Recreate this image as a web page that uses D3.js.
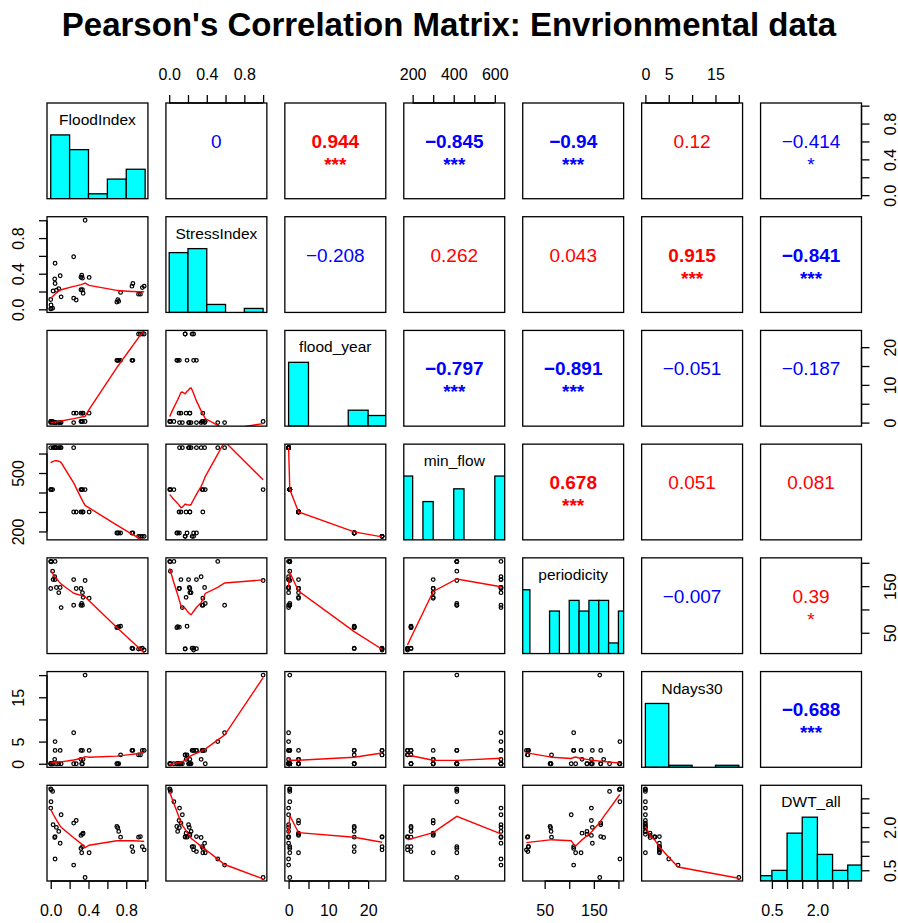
<!DOCTYPE html>
<html>
<head>
<meta charset="utf-8">
<script src="https://cdn.jsdelivr.net/npm/d3@7"></script>
<style>
  body { margin: 0; background: #fff; }
  svg { display: block; }
</style>
</head>
<body>
<div id="chart"></div>
<script>
// ---- data (one entry per observation, 34 rows) ----
const varNames = ["FloodIndex", "StressIndex", "flood_year", "min_flow", "periodicity", "Ndays30", "DWT_all"];

const floodIndex = [0.000, 0.020, 0.005, 0.003, 0.000, 0.025, 0.046, 0.042, 0.046, 0.060, 0.085, 0.100, 0.110,
  0.243, 0.243, 0.270, 0.320, 0.336, 0.343, 0.320, 0.328, 0.364, 0.336, 0.407,
  0.700, 0.710, 0.720, 0.740, 0.860, 0.870, 0.930, 0.970, 0.990, 0.950];
const stressIndex = [0.005, 0.013, 0.010, 0.050, 0.110, 0.206, 0.290, 0.340, 0.517, 0.214, 0.233, 0.377, 0.140,
  0.590, 0.125, 0.105, 0.220, 0.220, 0.180, 0.360, 0.384, 1.000, 0.350, 0.358,
  0.081, 0.108, 0.090, 0.190, 0.260, 0.290, 0.170, 0.244, 0.260, 0.170];
const floodYear = [0.3, 0.3, 0.3, 0.3, 0, 0, 0, 0, 0, 0, 0, 0, 0,
  0, 2.5, 2.5, 2.5, 2.5, 2.5, 0.3, 0.3, 0.3, 0.3, 2.5,
  16.5, 16.5, 16.5, 16.5, 16.5, 16.5, 23.5, 23.5, 23.5, 23.5];
const minFlow = [415, 415, 415, 415, 630, 630, 630, 630, 630, 630, 630, 630, 630,
  630, 300, 300, 300, 300, 300, 415, 415, 415, 415, 300,
  192, 192, 192, 192, 192, 192, 175, 175, 175, 175];
const periodicity = [203, 182, 202, 203, 145, 164, 164, 170, 203, 147, 136, 147, 104,
  109, 164, 145, 145, 136, 126, 109, 113, 162, 109, 124,
  61, 62, 63, 64, 17, 16, 15, 17, 13, 16];
const ndays30 = [0, 0, 0, 0, 0, 0, 3, 1, 5, 0, 0, 3, 0,
  7, 0, 0, 1, 0, 1, 3, 0, 20, 3, 3,
  0, 0, 0, 2, 3, 3, 2, 3, 3, 2];
const dwtAll = [3.33, 3.24, 3.30, 2.88, 2.66, 2.08, 1.67, 1.64, 0.89, 1.99, 1.85, 1.44, 2.43,
  0.68, 2.14, 2.23, 1.71, 1.75, 1.79, 1.26, 1.11, 0.25, 1.32, 1.11,
  2.02, 1.98, 1.85, 1.65, 1.32, 1.15, 1.65, 1.32, 1.21, 1.67];

// correlations printed in the upper panels (row by row)
const corrValues = [0, 0.944, -0.845, -0.94, 0.12, -0.414,
  -0.208, 0.262, 0.043, 0.915, -0.841,
  -0.797, -0.891, -0.051, -0.187,
  0.678, 0.051, 0.081,
  -0.007, 0.39,
  -0.688];
const corrStars = ["", "***", "***", "***", "", "*",
  "", "", "", "***", "***",
  "***", "***", "", "",
  "***", "", "",
  "", "*",
  "***"];
const tickFormats = [".1f", ".1f", "d", "d", "d", "d", ".1f"];

const title = "Pearson's Correlation Matrix: Envrionmental data";

// ---- layout ----
const W = 898, H = 923;
const plotLeft = 47, plotTop = 103, plotRight = 861.5, plotBottom = 881, gap = 18;
const nv = varNames.length;
const pw = (plotRight - plotLeft - gap * (nv - 1)) / nv;
const ph = (plotBottom - plotTop - gap * (nv - 1)) / nv;
const font = "'Liberation Sans', Arial, Helvetica, sans-serif";
const tickLen = 8, labOff = 29;

const columns = [floodIndex, stressIndex, floodYear, minFlow, periodicity, ndays30, dwtAll];

// R-like helpers
function rPretty(lo, hi, n) {
  const cell = (hi - lo) / n;
  const U = Math.pow(10, Math.floor(Math.log10(cell)));
  const h = 1.5, h5 = 0.5 + 1.5 * h;
  let unit = U;
  if (2 * U - cell < h * (cell - unit)) {
    unit = 2 * U;
    if (5 * U - cell < h5 * (cell - unit)) {
      unit = 5 * U;
      if (10 * U - cell < h * (cell - unit)) unit = 10 * U;
    }
  }
  const ns = Math.floor(lo / unit + 1e-7), nu = Math.ceil(hi / unit - 1e-7);
  return d3.range(ns, nu + 1).map(k => +(k * unit).toFixed(10));
}

function histCounts(v, breaks) {
  const counts = new Array(breaks.length - 1).fill(0);
  v.forEach(x => {
    for (let k = 0; k < breaks.length - 1; k++) {
      const inLow = k === 0 ? x >= breaks[0] : x > breaks[k];
      if (inLow && x <= breaks[k + 1]) { counts[k]++; break; }
    }
  });
  return counts;
}

// port of R's clowess (f = 2/3, iter = 3)
function lowess(xIn, yIn, f = 2 / 3, nsteps = 3) {
  const order = d3.range(xIn.length).sort((a, b) => xIn[a] - xIn[b]);
  const n = order.length;
  const x = [0, ...order.map(i => xIn[i])];
  const y = [0, ...order.map(i => yIn[i])];
  const ys = new Array(n + 1).fill(0), rw = new Array(n + 1).fill(1), res = new Array(n + 1).fill(0);
  const range = x[n] - x[1];
  const delta = 0.01 * range;
  const ns = Math.max(2, Math.min(n, Math.floor(f * n + 1e-7)));

  function lowest(xs, nleft, nright, userw) {
    const h = Math.max(xs - x[nleft], x[nright] - xs);
    const h9 = 0.999 * h, h1 = 0.001 * h;
    let a = 0, j = nleft;
    while (j <= n) {
      res[j] = 0;
      const r = Math.abs(x[j] - xs);
      if (r <= h9) {
        res[j] = r <= h1 ? 1 : Math.pow(1 - Math.pow(r / h, 3), 3);
        if (userw) res[j] *= rw[j];
        a += res[j];
      } else if (x[j] > xs) break;
      j++;
    }
    const nrt = j - 1;
    if (a <= 0) return null;
    for (j = nleft; j <= nrt; j++) res[j] /= a;
    if (h > 0) {
      a = 0;
      for (j = nleft; j <= nrt; j++) a += res[j] * x[j];
      let b = xs - a, c = 0;
      for (j = nleft; j <= nrt; j++) c += res[j] * (x[j] - a) * (x[j] - a);
      if (Math.sqrt(c) > 0.001 * range) {
        b /= c;
        for (j = nleft; j <= nrt; j++) res[j] *= (b * (x[j] - a) + 1);
      }
    }
    let v = 0;
    for (j = nleft; j <= nrt; j++) v += res[j] * y[j];
    return v;
  }

  for (let iter = 1; iter <= nsteps + 1; iter++) {
    let nleft = 1, nright = ns, last = 0, i = 1;
    for (;;) {
      if (nright < n) {
        const d1 = x[i] - x[nleft], d2 = x[nright + 1] - x[i];
        if (d1 > d2) { nleft++; nright++; continue; }
      }
      const v = lowest(x[i], nleft, nright, iter > 1);
      ys[i] = v === null ? y[i] : v;
      if (last < i - 1) {
        const denom = x[i] - x[last];
        for (let j = last + 1; j < i; j++) {
          const alpha = (x[j] - x[last]) / denom;
          ys[j] = alpha * ys[i] + (1 - alpha) * ys[last];
        }
      }
      last = i;
      const cut = x[last] + delta;
      for (i = last + 1; i <= n; i++) {
        if (x[i] > cut) break;
        if (x[i] === x[last]) { ys[i] = ys[last]; last = i; }
      }
      i = Math.max(last + 1, i - 1);
      if (last >= n) break;
    }
    let sc = 0;
    for (let k = 1; k <= n; k++) { res[k] = y[k] - ys[k]; sc += Math.abs(res[k]); }
    sc /= n;
    if (iter > nsteps) break;
    const absr = res.slice(1).map(Math.abs).sort((a, b) => a - b);
    const m1 = Math.floor(n / 2);
    const cmad = n % 2 === 0 ? 3 * (absr[m1] + absr[n - m1 - 1]) : 6 * absr[m1];
    if (cmad < 1e-7 * sc) break;
    const c9 = 0.999 * cmad, c1 = 0.001 * cmad;
    for (let k = 1; k <= n; k++) {
      const r = Math.abs(res[k]);
      rw[k] = r <= c1 ? 1 : r <= c9 ? Math.pow(1 - Math.pow(r / cmad, 2), 2) : 0;
    }
  }
  return d3.range(1, n + 1).map(k => [x[k], ys[k]]);
}

// ---- scales ----
const xScales = columns.map(v => {
  const [lo, hi] = d3.extent(v), pad = 0.04 * (hi - lo);
  return d3.scaleLinear().domain([lo - pad, hi + pad]).range([0, pw]);
});
const yScales = columns.map((v, k) => xScales[k].copy().range([ph, 0]));

// ---- drawing ----
const svg = d3.select("#chart").append("svg")
  .attr("width", W).attr("height", H)
  .attr("font-family", font);

svg.append("defs").append("clipPath").attr("id", "panel-clip")
  .append("rect").attr("width", pw).attr("height", ph);

svg.append("text")
  .attr("x", W / 2).attr("y", 36)
  .attr("text-anchor", "middle")
  .attr("font-size", 33).attr("font-weight", "bold")
  .text(title);

let ci = 0;
const corrIndex = {};
for (let i = 0; i < nv; i++) for (let j = i + 1; j < nv; j++) corrIndex[i + "," + j] = ci++;

function addAxis(g, side, k) {
  const horiz = side === "top" || side === "bottom";
  const scale = horiz ? xScales[k] : yScales[k];
  const [d0, d1] = xScales[k].domain();
  const ticks = rPretty(d0, d1, 5).filter(t => t >= d0 && t <= d1);
  const axisFn = { top: d3.axisTop, bottom: d3.axisBottom, left: d3.axisLeft, right: d3.axisRight }[side];
  const ax = g.append("g")
    .attr("transform", side === "bottom" ? `translate(0,${ph})` : side === "right" ? `translate(${pw},0)` : null)
    .call(axisFn(scale).tickValues(ticks).tickFormat(d3.format(tickFormats[k])).tickSize(tickLen).tickSizeOuter(0));
  ax.attr("font-size", 16).attr("font-family", font);

  // axis line only spans first to last tick
  const p0 = scale(ticks[0]), p1 = scale(ticks[ticks.length - 1]);
  ax.select(".domain").attr("d", horiz ? `M${p0},0H${p1}` : `M0,${p0}V${p1}`);
  ax.selectAll("line, path").attr("stroke", "#000").attr("stroke-width", 1.3);

  const sign = side === "bottom" || side === "right" ? 1 : -1;
  const texts = ax.selectAll("text").attr("fill", "#000").attr("dy", "0.35em");
  if (horiz) {
    texts.attr("y", sign * labOff);
  } else {
    texts.attr("x", 0).attr("y", 0).attr("text-anchor", "middle")
      .attr("transform", `translate(${sign * labOff},0) rotate(-90)`);
  }

  // drop labels that would crowd the previous one
  const minGap = 0.8 * 16;
  let lastEnd = -Infinity;
  texts.each(function (t) {
    const pos = horiz ? scale(t) : -scale(t);
    const half = this.getComputedTextLength() / 2;
    if (pos - half - lastEnd >= minGap) lastEnd = pos + half;
    else d3.select(this).remove();
  });
}

for (let i = 0; i < nv; i++) {
  for (let j = 0; j < nv; j++) {
    const g = svg.append("g")
      .attr("transform", `translate(${plotLeft + j * (pw + gap)},${plotTop + i * (ph + gap)})`);
    const inner = g.append("g").attr("clip-path", "url(#panel-clip)");
    const x = xScales[j], y = yScales[i];

    if (i === j) {
      // histogram, heights relative to the tallest bar on a 0..1.5 scale
      const breaks = rPretty(d3.min(columns[j]), d3.max(columns[j]), Math.ceil(Math.log2(columns[j].length) + 1));
      const counts = histCounts(columns[j], breaks);
      const maxC = d3.max(counts);
      const hy = d3.scaleLinear().domain([0, 1.5]).range([ph, 0]);
      inner.selectAll("rect.bar")
        .data(counts.map((c, k) => ({ c, x0: breaks[k], x1: breaks[k + 1] })).filter(d => d.c > 0))
        .join("rect").attr("class", "bar")
        .attr("x", d => x(d.x0)).attr("width", d => x(d.x1) - x(d.x0))
        .attr("y", d => hy(d.c / maxC)).attr("height", d => ph - hy(d.c / maxC))
        .attr("fill", "#00FFFF").attr("stroke", "#000").attr("stroke-width", 1.3);
      g.append("text")
        .attr("x", pw / 2).attr("y", 22)
        .attr("text-anchor", "middle").attr("font-size", 15.5).attr("fill", "#000")
        .text(varNames[j]);
    } else if (i > j) {
      const pts = columns[j].map((v, k) => [v, columns[i][k]]);
      inner.selectAll("circle")
        .data(pts).join("circle")
        .attr("cx", d => x(d[0])).attr("cy", d => y(d[1])).attr("r", 1.8)
        .attr("fill", "none").attr("stroke", "#000").attr("stroke-width", 1.25);
      inner.append("path")
        .datum(lowess(columns[j], columns[i]))
        .attr("fill", "none").attr("stroke", "#FF0000").attr("stroke-width", 1.4)
        .attr("d", d3.line().x(d => x(d[0])).y(d => y(d[1])));
    } else {
      const k = corrIndex[i + "," + j];
      const r = corrValues[k], stars = corrStars[k];
      const col = r > 0 ? "#FF0000" : "#0000FF";
      const bold = stars === "***" ? "bold" : "normal";
      g.append("text")
        .attr("x", pw / 2).attr("y", ph / 2 - 3)
        .attr("text-anchor", "middle").attr("font-size", 19)
        .attr("font-weight", bold).attr("fill", col)
        .text(String(r).replace("-", "\u2212"));
      if (stars) {
        g.append("text")
          .attr("x", pw / 2).attr("y", ph / 2 + 20)
          .attr("text-anchor", "middle").attr("font-size", 19)
          .attr("font-weight", bold).attr("fill", col)
          .text(stars);
      }
    }

    g.append("rect")
      .attr("width", pw).attr("height", ph)
      .attr("fill", "none").attr("stroke", "#000").attr("stroke-width", 1.3);

    // axes alternate around the outside, as in pairs()
    if (i === 0 && j % 2 === 1) addAxis(g, "top", j);
    if (i === nv - 1 && j % 2 === 0) addAxis(g, "bottom", j);
    if (j === 0 && i % 2 === 1) addAxis(g, "left", i);
    if (j === nv - 1 && i % 2 === 0) addAxis(g, "right", i);
  }
}
</script>
</body>
</html>
